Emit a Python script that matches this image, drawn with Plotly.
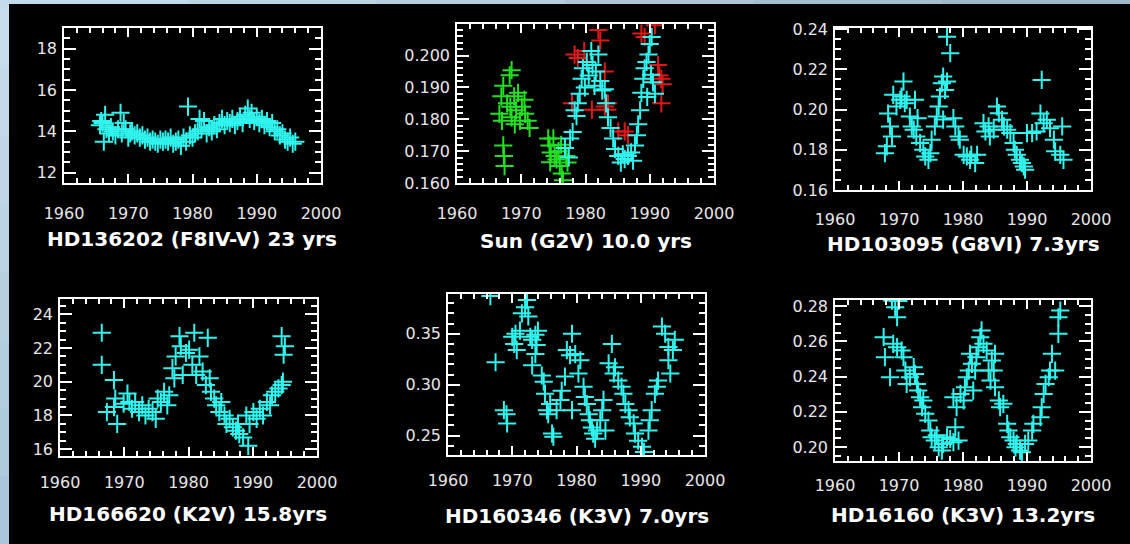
import plotly.graph_objects as go

W, H = 1130, 544

# ---------------- data ----------------
hd136202_year = [1965.6, 1965.8, 1966.0, 1966.2, 1966.4, 1966.6, 1967.0, 1967.3, 1967.6, 1968.0,
                 1968.4, 1968.8, 1969.0, 1969.3, 1969.6, 1970.0, 1970.3, 1970.6, 1971.0, 1971.4,
                 1971.8, 1972.2, 1972.6, 1973.0, 1973.4, 1973.8, 1974.2, 1974.6, 1975.0, 1975.4,
                 1975.8, 1976.2, 1976.6, 1977.0, 1977.4, 1977.8, 1978.2, 1978.6, 1979.0, 1979.3,
                 1979.6, 1980.0, 1980.4, 1980.8, 1981.1, 1981.4, 1981.8, 1982.2, 1982.6, 1983.0,
                 1983.4, 1983.8, 1984.2, 1984.6, 1985.0, 1985.4, 1985.8, 1986.2, 1986.6, 1987.0,
                 1987.4, 1987.8, 1988.2, 1988.6, 1988.9, 1989.2, 1989.6, 1990.0, 1990.4, 1990.8,
                 1991.2, 1991.6, 1992.0, 1992.4, 1992.8, 1993.2, 1993.6, 1994.0, 1994.4, 1994.8,
                 1995.2, 1995.6, 1996.0]
hd136202_val = [14.3, 14.5, 14.4, 13.5, 14.8, 14.1, 13.9, 14.2, 14.0, 13.8,
                14.1, 14.9, 13.9, 14.4, 14.1, 13.7, 13.9, 14.0, 13.8, 13.9,
                13.7, 13.8, 13.6, 13.7, 13.5, 13.6, 13.5, 13.4, 13.6, 13.5,
                13.6, 13.5, 13.7, 13.4, 13.5, 13.6, 13.3, 13.7, 13.5, 15.2,
                13.8, 13.7, 13.9, 14.0, 14.6, 14.1, 14.5, 13.9, 14.2, 14.0,
                14.3, 14.1, 14.4, 14.6, 14.3, 14.5, 14.4, 14.6, 14.3, 14.5,
                14.7, 14.4, 14.8, 15.1, 14.6, 14.9, 14.5, 14.7, 14.4, 14.6,
                14.3, 14.5, 14.2, 14.4, 14.0, 14.1, 13.8, 13.9, 13.6, 13.5,
                13.7, 13.4, 13.5]

sun_green_year = [1966.6, 1966.9, 1967.2, 1967.0, 1967.2, 1967.3, 1967.4, 1967.8, 1968.2, 1968.5,
                  1968.3, 1968.5, 1968.9, 1969.2, 1969.5, 1969.8, 1970.1, 1970.5, 1970.6, 1971.0,
                  1971.3, 1969.0, 1974.2, 1974.4, 1974.6, 1975.2, 1975.5, 1975.8, 1976.0, 1976.3,
                  1976.5, 1976.2, 1977.0, 1977.2, 1974.5, 1975.0]
sun_green_val = [0.1817, 0.1872, 0.1905, 0.1795, 0.1718, 0.1685, 0.1653, 0.1850, 0.1938, 0.1954,
                 0.1839, 0.1806, 0.1872, 0.1828, 0.1883, 0.1795, 0.1839, 0.1861, 0.1817, 0.1795,
                 0.1773, 0.1784, 0.1740, 0.1718, 0.1696, 0.1685, 0.1674, 0.1700, 0.1653, 0.1630,
                 0.1609, 0.1720, 0.1685, 0.1664, 0.1665, 0.1740]

sun_red_year = [1978.3, 1978.8, 1979.8, 1982.0, 1982.3, 1983.0, 1983.5, 1983.4, 1985.1, 1986.1,
                1986.6, 1988.7, 1989.2, 1990.8, 1991.3, 1991.5, 1991.8, 1991.8, 1977.9, 1983.0,
                1992.0, 1981.0]
sun_red_val = [0.2003, 0.1992, 0.2014, 0.2080, 0.2047, 0.1950, 0.1850, 0.1830, 0.1762, 0.1762,
               0.1750, 0.2069, 0.2058, 0.2095, 0.1970, 0.1937, 0.1927, 0.1850, 0.1850, 0.1840,
               0.1910, 0.1830]

sun_cyan_year = [1976.8, 1977.4, 1977.6, 1978.0, 1978.3, 1978.6, 1978.8, 1979.1, 1979.4, 1979.6,
                 1979.9, 1980.2, 1980.5, 1980.9, 1981.1, 1981.4, 1981.6, 1982.0, 1982.3, 1982.6,
                 1983.0, 1983.2, 1983.5, 1983.9, 1984.3, 1984.6, 1985.1, 1985.5, 1985.8, 1986.1,
                 1986.6, 1987.1, 1987.4, 1987.7, 1988.0, 1988.2, 1988.5, 1988.7, 1989.0, 1989.2,
                 1989.5, 1989.8, 1990.0, 1990.3, 1990.5, 1990.8, 1990.2, 1989.6]
sun_cyan_val = [0.1710, 0.1680, 0.1740, 0.1760, 0.1828, 0.1810, 0.1850, 0.1880, 0.1927, 0.1960,
                0.1900, 0.1980, 0.1937, 0.2014, 0.1970, 0.1905, 0.1950, 0.2003, 0.1920, 0.1890,
                0.1894, 0.1850, 0.1806, 0.1773, 0.1740, 0.1707, 0.1685, 0.1664, 0.1690, 0.1675,
                0.1685, 0.1696, 0.1670, 0.1718, 0.1750, 0.1784, 0.1828, 0.1883, 0.1927, 0.1960,
                0.1980, 0.2003, 0.2036, 0.2058, 0.1916, 0.1880, 0.1940, 0.1870]

hd103095_year = [1967.8, 1968.1, 1968.3, 1968.6, 1968.9, 1969.1, 1969.6, 1970.2, 1970.7, 1970.4,
                 1970.9, 1971.2, 1971.7, 1972.0, 1972.3, 1972.7, 1972.5, 1972.9, 1973.3, 1973.8,
                 1974.1, 1974.6, 1974.9, 1975.1, 1975.6, 1975.9, 1976.2, 1976.4, 1976.7, 1976.9,
                 1977.5, 1977.5, 1978.0, 1977.2, 1976.9, 1978.5, 1978.8, 1979.3, 1979.5, 1980.1,
                 1980.6, 1981.1, 1981.3, 1981.9, 1982.2, 1983.2, 1983.5, 1984.0, 1984.2, 1984.8,
                 1985.3, 1985.6, 1986.1, 1986.4, 1986.9, 1987.4, 1987.9, 1988.1, 1988.4, 1988.9,
                 1989.2, 1989.5, 1989.7, 1990.0, 1990.8, 1991.5, 1992.1, 1992.3, 1992.6, 1993.1,
                 1993.6, 1994.2, 1994.4, 1995.2, 1995.5, 1995.7]
hd103095_val = [0.1783, 0.1817, 0.1980, 0.1916, 0.1866, 0.2073, 0.2015, 0.2048, 0.2139, 0.2064,
                0.2031, 0.2048, 0.1965, 0.1916, 0.1900, 0.1866, 0.2048, 0.1957, 0.1833, 0.1800,
                0.1767, 0.1750, 0.1783, 0.1850, 0.1916, 0.1965, 0.2015, 0.2064, 0.2131, 0.2164,
                0.2139, 0.2362, 0.2280, 0.2097, 0.1950, 0.1957, 0.1916, 0.1866, 0.1850, 0.1775,
                0.1767, 0.1750, 0.1775, 0.1734, 0.1775, 0.1932, 0.1891, 0.1916, 0.1866, 0.1900,
                0.2015, 0.1982, 0.1949, 0.1916, 0.1900, 0.1883, 0.1833, 0.1800, 0.1775, 0.1750,
                0.1734, 0.1717, 0.1701, 0.1883, 0.1883, 0.1891, 0.1980, 0.2147, 0.1932, 0.1949,
                0.1907, 0.1850, 0.1792, 0.1775, 0.1916, 0.1750]

hd166620_year = [1966.5, 1966.5, 1968.4, 1967.3, 1968.4, 1968.9, 1968.6, 1969.9, 1970.5, 1970.8,
                 1971.2, 1971.7, 1972.3, 1972.8, 1973.3, 1973.8, 1974.4, 1974.9, 1975.2, 1975.7,
                 1976.2, 1976.7, 1977.0, 1977.5, 1977.8, 1978.0, 1978.6, 1978.8, 1979.1, 1979.6,
                 1980.1, 1980.9, 1980.6, 1981.2, 1981.7, 1982.2, 1983.0, 1982.7, 1983.3, 1983.5,
                 1984.0, 1984.3, 1984.8, 1985.1, 1985.6, 1985.9, 1986.4, 1986.9, 1987.4, 1987.7,
                 1987.9, 1988.5, 1989.0, 1989.3, 1989.5, 1990.1, 1990.6, 1991.1, 1991.6, 1992.2,
                 1992.7, 1993.0, 1993.5, 1994.0, 1994.5, 1994.7, 1994.5, 1995.0, 1994.8]
hd166620_val = [22.9, 21.0, 20.1, 18.2, 18.5, 17.5, 19.0, 18.7, 19.3, 18.8,
                18.4, 18.8, 18.2, 18.6, 18.0, 18.4, 18.2, 17.8, 19.0, 18.8,
                19.4, 18.6, 19.2, 20.8, 20.2, 21.5, 22.7, 22.1, 20.4, 21.7,
                21.9, 22.9, 21.0, 20.4, 21.5, 20.6, 22.6, 19.8, 20.2, 19.4,
                19.0, 18.6, 18.2, 18.8, 18.0, 17.5, 17.8, 17.3, 17.1, 17.5,
                16.9, 16.7, 18.0, 16.2, 17.5, 18.2, 17.8, 18.4, 18.0, 18.8,
                18.6, 19.2, 19.4, 19.6, 19.8, 20.0, 22.7, 22.1, 21.6]

hd160346_year = [1966.6, 1967.4, 1968.7, 1969.1, 1969.2, 1970.0, 1970.3, 1970.5, 1970.7, 1971.2,
                 1971.5, 1972.0, 1972.3, 1972.5, 1972.8, 1973.1, 1973.6, 1973.8, 1974.0, 1973.1,
                 1973.6, 1974.6, 1974.9, 1975.1, 1975.4, 1975.6, 1975.9, 1976.2, 1976.4, 1976.9,
                 1977.5, 1977.7, 1978.2, 1978.5, 1979.3, 1979.0, 1979.3, 1979.8, 1980.3, 1980.6,
                 1981.1, 1981.3, 1981.6, 1981.9, 1982.1, 1982.4, 1982.6, 1982.9, 1983.2, 1983.7,
                 1984.0, 1984.2, 1984.5, 1985.0, 1985.5, 1985.8, 1986.0, 1986.5, 1987.0, 1987.3,
                 1987.6, 1988.1, 1988.3, 1988.9, 1989.1, 1989.6, 1990.2, 1990.5, 1991.2, 1991.4,
                 1991.7, 1992.2, 1992.5, 1992.7, 1993.3, 1993.8, 1994.3, 1994.3, 1994.6, 1995.0,
                 1995.3]
hd160346_val = [0.387, 0.322, 0.275, 0.271, 0.262, 0.347, 0.340, 0.350, 0.334, 0.353,
                0.370, 0.376, 0.383, 0.367, 0.347, 0.344, 0.349, 0.339, 0.353, 0.319,
                0.330, 0.309, 0.303, 0.291, 0.275, 0.271, 0.281, 0.252, 0.249, 0.275,
                0.285, 0.294, 0.308, 0.334, 0.350, 0.329, 0.275, 0.330, 0.311, 0.324,
                0.298, 0.288, 0.281, 0.271, 0.265, 0.258, 0.252, 0.247, 0.255, 0.265,
                0.275, 0.285, 0.255, 0.321, 0.340, 0.311, 0.317, 0.304, 0.298, 0.291,
                0.281, 0.275, 0.268, 0.262, 0.252, 0.245, 0.239, 0.234, 0.255, 0.265,
                0.275, 0.291, 0.298, 0.304, 0.357, 0.350, 0.337, 0.324, 0.311, 0.334,
                0.344]

hd16160_year = [1967.6, 1967.8, 1968.6, 1968.9, 1969.4, 1969.7, 1969.9, 1969.1, 1969.7, 1970.4,
                1970.7, 1971.0, 1971.2, 1971.7, 1972.3, 1972.5, 1972.8, 1973.0, 1973.3, 1973.6,
                1973.8, 1974.1, 1974.6, 1974.9, 1975.1, 1975.6, 1975.9, 1976.2, 1976.7, 1976.9,
                1977.5, 1978.0, 1978.5, 1978.8, 1979.3, 1978.5, 1979.0, 1979.6, 1980.1, 1980.3,
                1980.6, 1980.9, 1981.1, 1981.4, 1981.6, 1981.9, 1982.1, 1982.4, 1982.7, 1982.9,
                1983.2, 1983.7, 1984.0, 1984.3, 1984.5, 1984.8, 1985.0, 1985.0, 1985.6, 1985.8,
                1986.3, 1986.9, 1987.1, 1987.4, 1987.9, 1988.2, 1988.4, 1988.9, 1989.2, 1989.7,
                1990.2, 1990.8, 1991.0, 1992.1, 1992.3, 1992.6, 1992.9, 1993.4, 1993.6, 1993.9,
                1994.4, 1994.9, 1994.9, 1995.2]
hd16160_val = [0.2624, 0.2510, 0.2396, 0.2832, 0.2794, 0.2737, 0.2830, 0.2586, 0.2567, 0.2548,
               0.2510, 0.2434, 0.2358, 0.2396, 0.2453, 0.2415, 0.2358, 0.2320, 0.2282, 0.2226,
               0.2264, 0.2188, 0.2150, 0.2093, 0.2055, 0.2036, 0.2066, 0.1998, 0.1979, 0.2017,
               0.2055, 0.2045, 0.2027, 0.2112, 0.2036, 0.2282, 0.2226, 0.2301, 0.2264, 0.2339,
               0.2396, 0.2434, 0.2529, 0.2472, 0.2320, 0.2434, 0.2510, 0.2567, 0.2624, 0.2662,
               0.2586, 0.2548, 0.2434, 0.2377, 0.2491, 0.2434, 0.2529, 0.2339, 0.2264, 0.2226,
               0.2245, 0.2131, 0.2093, 0.2055, 0.2036, 0.1998, 0.2017, 0.1979, 0.1970, 0.2017,
               0.2036, 0.2093, 0.2131, 0.2169, 0.2226, 0.2301, 0.2358, 0.2396, 0.2434, 0.2529,
               0.2434, 0.2643, 0.2737, 0.2775]

titles = ["HD136202 (F8IV-V) 23 yrs", "Sun (G2V) 10.0 yrs", "HD103095 (G8VI) 7.3yrs",
          "HD166620 (K2V) 15.8yrs", "HD160346 (K3V) 7.0yrs", "HD16160 (K3V) 13.2yrs"]
x_ticks = [1960, 1970, 1980, 1990, 2000]

# ---------------- layout helpers ----------------
CYAN = "#30f4ee"
GREEN = "#22e022"
RED = "#e01818"

# box positions in page px: (left, right, top, bottom)
boxes = [(64, 321, 28, 183), (457, 714, 24, 183), (835, 1091, 28, 190),
         (60, 317, 299, 456), (448, 705, 294, 455), (835, 1091, 300, 461)]
title_y = [239, 241, 244, 514, 516, 515]
x_standoff = [15, 15, 14, 11, 10, 9]

yspecs = [
    dict(range=[11.5, 19.0], dtick=2, tick0=12, minor=0.5, fmt="d"),
    dict(range=[0.160, 0.2099], dtick=0.01, tick0=0.16, minor=0.002, fmt=".3f"),
    dict(range=[0.160, 0.2405], dtick=0.02, tick0=0.16, minor=0.005, fmt=".2f"),
    dict(range=[15.6, 24.9], dtick=2, tick0=16, minor=0.5, fmt="d"),
    dict(range=[0.231, 0.389], dtick=0.05, tick0=0.25, minor=0.01, fmt=".2f"),
    dict(range=[0.192, 0.2835], dtick=0.02, tick0=0.20, minor=0.005, fmt=".2f"),
]

fig = go.Figure()

def add(i, xs, ys, color):
    sfx = "" if i == 0 else str(i + 1)
    fig.add_trace(go.Scatter(
        x=xs, y=ys, mode="markers", xaxis="x" + sfx, yaxis="y" + sfx,
        marker=dict(symbol="cross-thin", size=13, line=dict(color=color, width=2)),
        showlegend=False, hoverinfo="skip"))

add(0, hd136202_year, hd136202_val, CYAN)
add(1, sun_green_year, sun_green_val, GREEN)
add(1, sun_red_year, sun_red_val, RED)
add(1, sun_cyan_year, sun_cyan_val, CYAN)
add(2, hd103095_year, hd103095_val, CYAN)
add(3, hd166620_year, hd166620_val, CYAN)
add(4, hd160346_year, hd160346_val, CYAN)
add(5, hd16160_year, hd16160_val, CYAN)

tickfont = dict(family="DejaVu Sans", size=16, color="#e6e6e6")
layout = dict(
    template="none",
    width=W, height=H, margin=dict(l=0, r=0, t=0, b=0, pad=0, autoexpand=False),
    paper_bgcolor="#bcd4e6", plot_bgcolor="black", showlegend=False,
)
annotations = []
for i, ((l, r, t, b), ys) in enumerate(zip(boxes, yspecs)):
    sfx = "" if i == 0 else str(i + 1)
    common = dict(showline=True, linecolor="white", linewidth=1.5, mirror="ticks",
                  ticks="inside", tickcolor="white", tickwidth=1.5, showgrid=False,
                  zeroline=False, tickfont=tickfont, automargin=False)
    xminor = dict(ticks="inside", dtick=2, tick0=1960, ticklen=5, tickcolor="white", tickwidth=1.5)
    yminor = dict(ticks="inside", dtick=ys["minor"], tick0=ys["tick0"], ticklen=6,
                  tickcolor="white", tickwidth=1.5)
    layout["xaxis" + sfx] = dict(
        common, domain=[l / W, r / W], anchor="y" + sfx, range=[1960, 2000],
        tickmode="array", tickvals=x_ticks, ticktext=[str(v) for v in x_ticks], ticklen=9,
        minor=xminor, ticklabelstandoff=x_standoff[i])
    layout["yaxis" + sfx] = dict(
        common, domain=[1 - b / H, 1 - t / H], anchor="x" + sfx, range=ys["range"],
        tick0=ys["tick0"], dtick=ys["dtick"], tickformat=ys["fmt"], ticklen=12,
        minor=yminor, ticklabelstandoff=2)
    # explicit top / right tick marks (box-style axes)
    k = str(i + 7)
    layout["xaxis" + k] = dict(
        overlaying="x" + sfx, anchor="y" + sfx, side="top", range=[1960, 2000],
        tickmode="array", tickvals=x_ticks, ticks="inside", ticklen=9, tickcolor="white",
        tickwidth=1.5, minor=xminor, showticklabels=False, showline=False, showgrid=False,
        zeroline=False, automargin=False)
    layout["yaxis" + k] = dict(
        overlaying="y" + sfx, anchor="x" + sfx, side="right", range=ys["range"],
        tick0=ys["tick0"], dtick=ys["dtick"], ticks="inside", ticklen=12, tickcolor="white",
        tickwidth=1.5, minor=yminor, showticklabels=False, showline=False, showgrid=False,
        zeroline=False, automargin=False)
    annotations.append(dict(
        text=titles[i], x=(l + r) / 2 / W, y=1 - title_y[i] / H, xref="paper", yref="paper",
        xanchor="center", yanchor="middle", showarrow=False,
        font=dict(family="DejaVu Sans", size=20, color="white", weight="bold")))
layout["annotations"] = annotations

# background: black panel with light-blue frame on left/top
shapes = [dict(type="rect", xref="paper", yref="paper", x0=9 / W, x1=1, y0=0, y1=1 - 4 / H,
               fillcolor="black", line=dict(width=0), layer="below")]
left_cols = ["#c6dcec", "#c2d9ea", "#bed6e8", "#bad3e5", "#b6d0e2", "#b2cde0", "#aecadd", "#aac6da"]
n = len(left_cols)
for k, c in enumerate(left_cols):
    shapes.append(dict(type="rect", xref="paper", yref="paper", x0=0, x1=9 / W,
                       y0=1 - (k + 1) / n, y1=1 - k / n, fillcolor=c, line=dict(width=0), layer="below"))
top_cols = ["#c4dbeb", "#bdd4e5", "#b5cddf", "#adc5d7", "#a6bed0", "#a0b8c9"]
m = len(top_cols)
for k, c in enumerate(top_cols):
    shapes.append(dict(type="rect", xref="paper", yref="paper", x0=k / m, x1=(k + 1) / m,
                       y0=1 - 4 / H, y1=1, fillcolor=c, line=dict(width=0), layer="below"))
layout["shapes"] = shapes

fig.update_layout(**layout)
fig.write_html("out.html")
